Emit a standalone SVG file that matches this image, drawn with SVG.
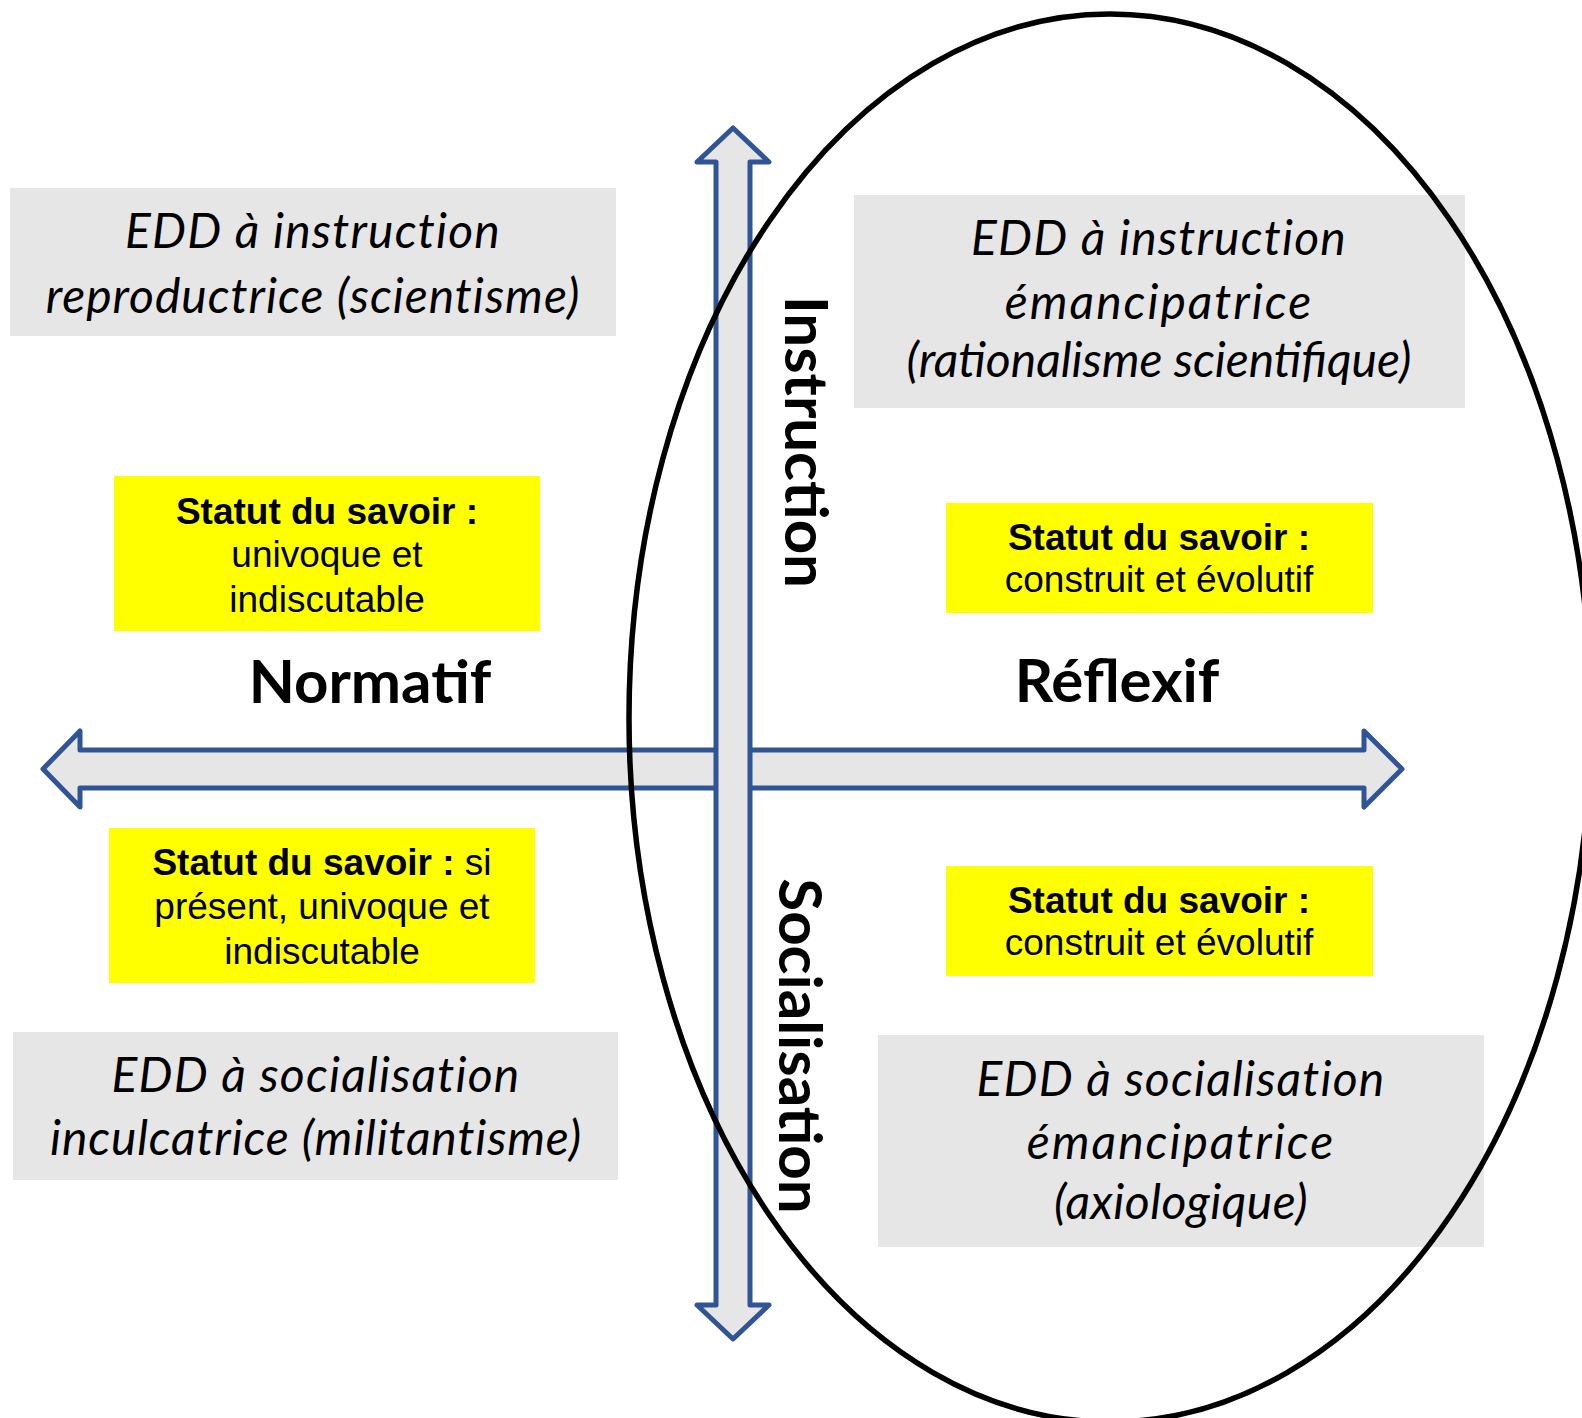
<svg xmlns="http://www.w3.org/2000/svg" width="1582" height="1418" viewBox="0 0 1582 1418">
<style>
.gbox{fill:#E6E6E6}
.ybox{fill:#FFFF00}
.it{font-family:Lato,"Open Sans",sans-serif;font-style:italic;font-size:48px;letter-spacing:1.2px;fill:#000;text-anchor:middle}
.st{font-family:"Liberation Sans",Arial,sans-serif;font-size:37px;fill:#000;text-anchor:middle}
.b{font-weight:bold}
.ax{font-family:Lato,"Open Sans",sans-serif;font-weight:bold;font-size:60px;fill:#000;text-anchor:middle}
.arrow{fill:#E6E6E6;stroke:#2F5597;stroke-width:5;stroke-linejoin:round}
</style>
<rect width="1582" height="1418" fill="#FFFFFF"/>

<g id="connectors">
<polygon class="arrow" points="43,769 80,731 80,750 1364,750 1364,731 1402,769 1364,807 1364,788 80,788 80,807"/>
<polygon class="arrow" points="733,128 769,162 750,162 750,1305 769,1305 733,1339 697,1305 716,1305 716,162 697,162"/>
</g>

<g id="gray-tl">
<rect class="gbox" x="10" y="188" width="606" height="148"/>
<text class="it" x="313" y="248">EDD à instruction</text>
<text class="it" x="313" y="313" style="letter-spacing:1px">reproductrice (scientisme)</text>
</g>

<g id="gray-tr">
<rect class="gbox" x="854" y="195" width="611" height="213"/>
<text class="it" x="1159" y="255">EDD à instruction</text>
<text class="it" x="1159" y="319" style="letter-spacing:2px">émancipatrice</text>
<text class="it" x="1159" y="377" style="letter-spacing:0px">(rationalisme scientifique)</text>
</g>

<g id="gray-bl">
<rect class="gbox" x="13" y="1032" width="605" height="148"/>
<text class="it" x="316" y="1092">EDD à socialisation</text>
<text class="it" x="316" y="1155" style="letter-spacing:0.85px">inculcatrice (militantisme)</text>
</g>

<g id="gray-br">
<rect class="gbox" x="878" y="1035" width="606" height="212"/>
<text class="it" x="1181" y="1096">EDD à socialisation</text>
<text class="it" x="1181" y="1159" style="letter-spacing:2px">émancipatrice</text>
<text class="it" x="1181" y="1219" style="letter-spacing:0.45px">(axiologique)</text>
</g>

<g id="yellow-tl">
<rect class="ybox" x="114" y="476" width="426" height="155"/>
<text class="st b" x="327" y="524">Statut du savoir :</text>
<text class="st" x="327" y="567">univoque et</text>
<text class="st" x="327" y="612">indiscutable</text>
</g>

<g id="yellow-tr">
<rect class="ybox" x="946" y="503" width="427" height="110"/>
<text class="st b" x="1159" y="550">Statut du savoir :</text>
<text class="st" x="1159" y="592">construit et évolutif</text>
</g>

<g id="yellow-bl">
<rect class="ybox" x="109" y="828" width="426" height="155"/>
<text class="st" x="322" y="875"><tspan class="b">Statut du savoir :</tspan> si</text>
<text class="st" x="322" y="919">présent, univoque et</text>
<text class="st" x="322" y="964">indiscutable</text>
</g>

<g id="yellow-br">
<rect class="ybox" x="946" y="866" width="427" height="110"/>
<text class="st b" x="1159" y="913">Statut du savoir :</text>
<text class="st" x="1159" y="955">construit et évolutif</text>
</g>

<g id="label-normatif">
<text class="ax" x="370" y="703">Normatif</text>
</g>
<g id="label-reflexif">
<text class="ax" x="1117" y="702">Réflexif</text>
</g>
<g id="label-instruction">
<text class="ax" transform="translate(785,442) rotate(90)" x="0" y="0">Instruction</text>
</g>
<g id="label-socialisation">
<text class="ax" transform="translate(779,1046) rotate(90)" x="0" y="0">Socialisation</text>
</g>

<g id="ellipse">
<ellipse cx="1110" cy="718" rx="481" ry="704" fill="none" stroke="#000" stroke-width="5.5"/>
</g>
</svg>
